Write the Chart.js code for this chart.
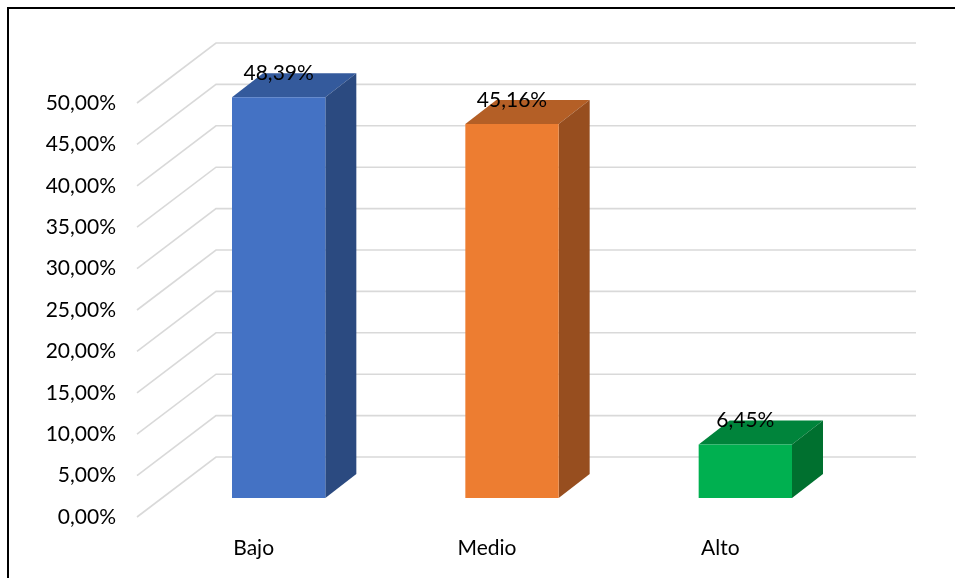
<!DOCTYPE html>
<html>
<head>
    <style>
        html, body {
            margin: 0;
            padding: 0;
            background: #ffffff;
        }
        #nivelChart {
            display: block;
        }
    </style>
</head>
<body>
    <canvas id="nivelChart" width="955" height="578"></canvas>

    <script src="https://cdn.jsdelivr.net/npm/chart.js@4.4.0/dist/chart.umd.min.js"></script>
    <script>
        const categories = ['Bajo', 'Medio', 'Alto'];
        const percentages = [48.39, 45.16, 6.45];
        const frontColors = ['#4472C4', '#ED7D31', '#00B050'];
        const topColors = ['#345A9C', '#B45F26', '#00843B'];
        const sideColors = ['#2B4A80', '#974E1F', '#00702F'];
        const tickValues = [0, 5, 10, 15, 20, 25, 30, 35, 40, 45, 50];

        // depth of the floor/walls and where the boxes sit inside it
        const wallDepth = { x: 79, y: -60 };
        const boxOffset = { x: 25, y: -19 };
        const boxDepth = { x: 31, y: -24 };
        const wallWidth = 700;

        const fontFamily = 'Lato, "Open Sans", sans-serif';

        function formatPct(v) {
            return v.toFixed(2).replace('.', ',') + '%';
        }

        const frame = {
            id: 'frame',
            beforeDraw(chart) {
                const ctx = chart.ctx;
                ctx.save();
                ctx.fillStyle = '#ffffff';
                ctx.fillRect(0, 0, chart.width, chart.height);
                ctx.strokeStyle = '#000000';
                ctx.lineWidth = 2;
                ctx.beginPath();
                ctx.moveTo(8, chart.height);
                ctx.lineTo(8, 8);
                ctx.lineTo(chart.width, 8);
                ctx.stroke();
                ctx.restore();
            }
        };

        const depth3d = {
            id: 'depth3d',
            beforeDatasetsDraw(chart) {
                const ctx = chart.ctx;
                const yScale = chart.scales.y;
                const left = chart.chartArea.left;

                // gridlines: slanted on the side wall, flat on the back wall
                ctx.save();
                ctx.strokeStyle = '#D9D9D9';
                ctx.lineWidth = 1.6;
                tickValues.forEach(v => {
                    const py = yScale.getPixelForValue(v);
                    ctx.beginPath();
                    ctx.moveTo(left, py);
                    ctx.lineTo(left + wallDepth.x, py + wallDepth.y);
                    ctx.lineTo(left + wallDepth.x + wallWidth, py + wallDepth.y);
                    ctx.stroke();
                });
                ctx.restore();

                // move the boxes into the depth and draw their top and side faces
                ctx.save();
                ctx.translate(boxOffset.x, boxOffset.y);
                const meta = chart.getDatasetMeta(0);
                meta.data.forEach((bar, i) => {
                    const l = bar.x - bar.width / 2;
                    const r = bar.x + bar.width / 2;
                    const t = bar.y;
                    const b = bar.base;

                    ctx.fillStyle = topColors[i];
                    ctx.beginPath();
                    ctx.moveTo(l, t);
                    ctx.lineTo(l + boxDepth.x, t + boxDepth.y);
                    ctx.lineTo(r + boxDepth.x, t + boxDepth.y);
                    ctx.lineTo(r, t);
                    ctx.closePath();
                    ctx.fill();

                    ctx.fillStyle = sideColors[i];
                    ctx.beginPath();
                    ctx.moveTo(r, t);
                    ctx.lineTo(r + boxDepth.x, t + boxDepth.y);
                    ctx.lineTo(r + boxDepth.x, b + boxDepth.y);
                    ctx.lineTo(r, b);
                    ctx.closePath();
                    ctx.fill();
                });
            },
            afterDatasetsDraw(chart) {
                const ctx = chart.ctx;
                ctx.restore();

                // value labels above each box
                ctx.save();
                ctx.fillStyle = '#000000';
                ctx.font = '21px ' + fontFamily;
                ctx.textAlign = 'center';
                ctx.textBaseline = 'middle';
                const meta = chart.getDatasetMeta(0);
                meta.data.forEach((bar, i) => {
                    ctx.fillText(formatPct(percentages[i]), bar.x + boxOffset.x, bar.y + boxOffset.y - 24);
                });
                ctx.restore();
            }
        };

        const ctx = document.getElementById('nivelChart').getContext('2d');

        new Chart(ctx, {
            type: 'bar',
            data: {
                labels: categories,
                datasets: [{
                    data: percentages,
                    backgroundColor: frontColors,
                    borderWidth: 0,
                    categoryPercentage: 1,
                    barPercentage: 0.4
                }]
            },
            options: {
                responsive: false,
                animation: false,
                layout: {
                    padding: { top: 103, left: 0, right: 118, bottom: 0 }
                },
                plugins: {
                    legend: { display: false },
                    tooltip: { enabled: false }
                },
                scales: {
                    x: {
                        grid: { display: false, drawTicks: false },
                        border: { display: false },
                        ticks: {
                            color: '#000000',
                            padding: 19,
                            font: { family: fontFamily, size: 21 }
                        },
                        afterFit(scale) {
                            scale.height = 61;
                        }
                    },
                    y: {
                        min: 0,
                        max: 50,
                        grid: { display: false, drawTicks: false },
                        border: { display: false },
                        ticks: {
                            stepSize: 5,
                            color: '#000000',
                            padding: 21,
                            font: { family: fontFamily, size: 21 },
                            callback: value => formatPct(value)
                        },
                        afterFit(scale) {
                            scale.width = 137;
                        }
                    }
                }
            },
            plugins: [frame, depth3d]
        });
    </script>
</body>
</html>
